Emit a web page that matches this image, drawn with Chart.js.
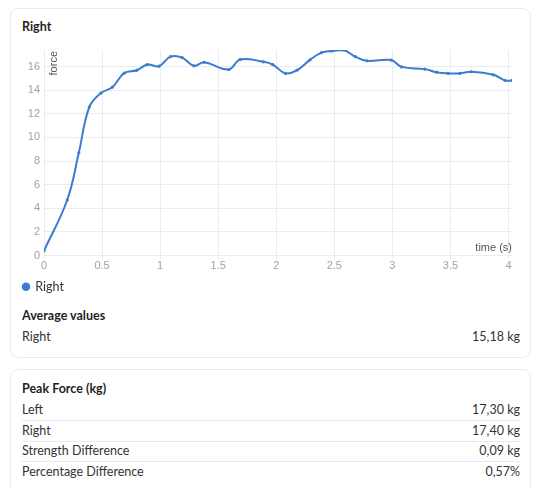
<!DOCTYPE html>
<html>
<head>
<meta charset="utf-8">
<script src="https://cdn.jsdelivr.net/npm/chart.js@4.4.1/dist/chart.umd.min.js"></script>
<style>
  html, body { margin: 0; padding: 0; background: #ffffff; }
  body { width: 534px; height: 489px; position: relative; overflow: hidden;
         font-family: Lato, "Open Sans", sans-serif; color: #2b2b2b; }
  .card { position: absolute; left: 10px; width: 521px; background: #fff;
          border: 1px solid #e7eaef; border-radius: 8px; box-sizing: border-box; }
  .title { position: absolute; left: 11px; font-weight: 700; font-size: 12.5px; line-height: 14px; color: #1f1f1f; }
  .row { position: absolute; left: 11px; right: 10px; height: 20px; font-size: 12.5px;
         line-height: 20px; display: flex; justify-content: space-between; color: #333; }
  .sep { border-bottom: 1px solid #e6e9ee; }
  #chartBox { position: absolute; left: 10px; top: 36px; width: 520px; height: 267px; }
</style>
</head>
<body>
<div class="card" style="top:8px; height:350px;">
  <div class="title" style="top:11px;">Right</div>
  <div class="title" style="top:300px;">Average values</div>
  <div class="row" style="top:318px;"><span>Right</span><span id="avgValue"></span></div>
</div>
<div id="chartBox"><canvas id="chart"></canvas></div>
<div class="card" style="top:369px; height:140px;">
  <div class="title" style="top:12px;">Peak Force (kg)</div>
  <div id="peakRows"></div>
</div>
<script>
// Sampled grip force of the right hand over time
const seriesName = 'Right';
const times = [0, 0.2, 0.3, 0.39, 0.49, 0.59, 0.69, 0.8, 0.89, 0.99,
               1.09, 1.19, 1.29, 1.38, 1.59, 1.69, 1.89, 1.97, 2.08, 2.18,
               2.29, 2.39, 2.48, 2.58, 2.68, 2.78, 2.99, 3.08, 3.28, 3.38,
               3.48, 3.58, 3.68, 3.87, 3.97, 4.03];
const force = [0.4, 4.7, 8.7, 12.57, 13.75, 14.26, 15.44, 15.69, 16.17, 16.03,
               16.84, 16.76, 16.06, 16.36, 15.75, 16.6, 16.4, 16.17, 15.42, 15.7,
               16.56, 17.18, 17.32, 17.4, 16.84, 16.48, 16.55, 15.97, 15.78, 15.52,
               15.42, 15.42, 15.56, 15.3, 14.82, 14.82];

// Summary figures
const averageRight = '15,18 kg';
const peakLabels = ['Left', 'Right', 'Strength Difference', 'Percentage Difference'];
const peakValues = ['17,30 kg', '17,40 kg', '0,09 kg', '0,57%'];

document.getElementById('avgValue').textContent = averageRight;
const rowsEl = document.getElementById('peakRows');
peakLabels.forEach((label, i) => {
  const row = document.createElement('div');
  row.className = 'row' + (i < peakLabels.length - 1 ? ' sep' : '');
  row.style.top = (30 + i * 20.7) + 'px';
  row.innerHTML = '<span></span><span></span>';
  row.children[0].textContent = label;
  row.children[1].textContent = peakValues[i];
  rowsEl.appendChild(row);
});

const lineColor = '#3a7dd0';
const gridColor = '#e9edf3';
const tickFont = { family: '"Liberation Sans", Arial, sans-serif', size: 11 };

// Axis captions drawn inside the plot area corners
const axisCaptions = {
  id: 'axisCaptions',
  afterDraw(chart) {
    const { ctx, chartArea } = chart;
    ctx.save();
    ctx.fillStyle = '#555';
    ctx.font = '11px "Liberation Sans", Arial, sans-serif';
    ctx.translate(chartArea.left + 13, chartArea.top + 1);
    ctx.rotate(-Math.PI / 2);
    ctx.textAlign = 'right';
    ctx.textBaseline = 'alphabetic';
    ctx.fillText('force', 0, 0);
    ctx.restore();
    ctx.save();
    ctx.fillStyle = '#555';
    ctx.font = '11px "Liberation Sans", Arial, sans-serif';
    ctx.textAlign = 'right';
    ctx.textBaseline = 'alphabetic';
    ctx.fillText('time (s)', chartArea.right, chartArea.bottom - 4.5);
    ctx.restore();
  }
};

new Chart(document.getElementById('chart'), {
  type: 'line',
  data: {
    datasets: [{
      label: seriesName,
      data: times.map((t, i) => ({ x: t, y: force[i] })),
      borderColor: lineColor,
      backgroundColor: '#2f7bd6',
      borderWidth: 2,
      pointRadius: 1.6,
      pointBackgroundColor: lineColor,
      pointBorderWidth: 0,
      tension: 0.4,
      fill: false
    }]
  },
  options: {
    responsive: true,
    maintainAspectRatio: false,
    animation: false,
    layout: { padding: { top: 14, right: 18, left: 5, bottom: 0 } },
    scales: {
      x: {
        type: 'linear',
        min: 0,
        max: times[times.length - 1],
        grid: { color: gridColor, tickLength: 4, tickColor: gridColor },
        border: { color: gridColor },
        ticks: { stepSize: 0.5, includeBounds: false, color: '#a3a3a3', font: tickFont, padding: 0, maxRotation: 0,
                 callback: v => String(v) },
        afterFit(scale) { scale.height = 17; }
      },
      y: {
        min: 0,
        max: Math.max(...force),
        grid: { color: gridColor, drawTicks: false },
        border: { color: gridColor },
        ticks: { stepSize: 2, includeBounds: false, color: '#a3a3a3', font: tickFont, padding: 4 },
        afterFit(scale) { scale.width = 29; }
      }
    },
    plugins: {
      legend: {
        position: 'bottom',
        align: 'start',
        labels: {
          usePointStyle: true,
          pointStyle: 'circle',
          boxWidth: 6,
          boxHeight: 6,
          padding: 8,
          color: '#333',
          font: { family: 'Lato, "Open Sans", sans-serif', size: 12.5 },
          generateLabels(chart) {
            return Chart.defaults.plugins.legend.labels.generateLabels(chart)
              .map(item => Object.assign(item, { lineWidth: 0 }));
          }
        }
      },
      tooltip: { enabled: false }
    }
  },
  plugins: [axisCaptions]
});
</script>
</body>
</html>
